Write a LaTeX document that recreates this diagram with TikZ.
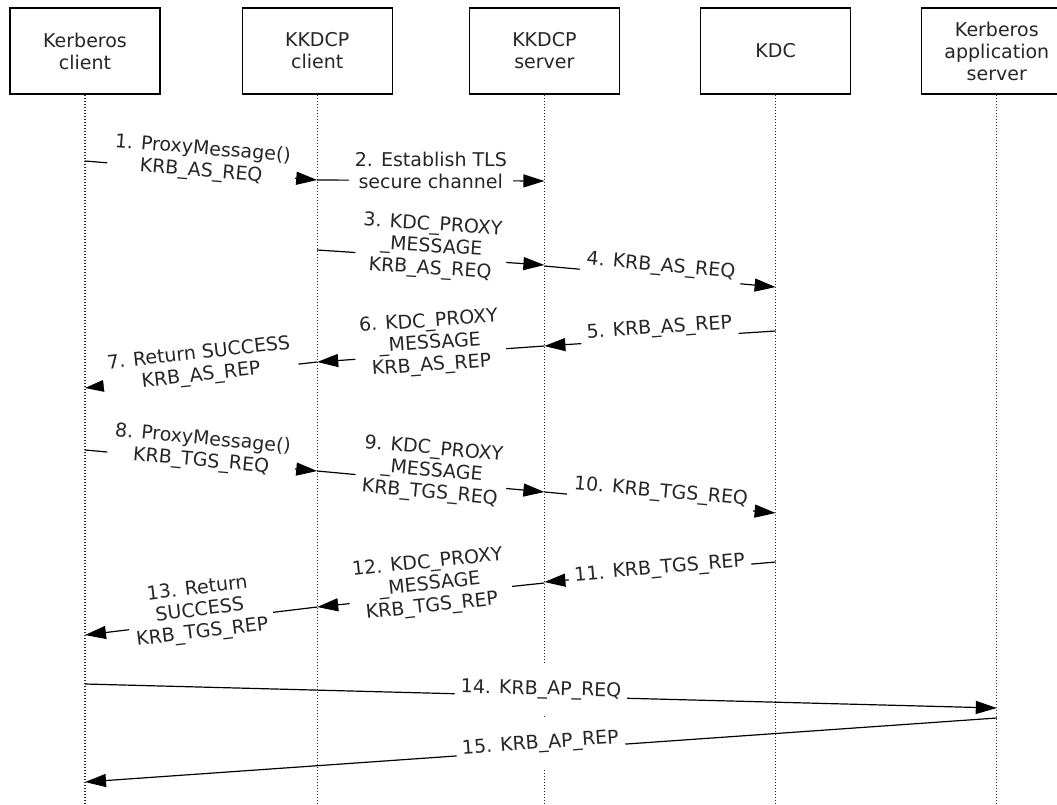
\documentclass[tikz,border=0pt]{standalone}
\usepackage{fontspec}
\setmainfont{DejaVu Sans}
\usetikzlibrary{positioning,arrows.meta}

\begin{document}
\begin{tikzpicture}[x=1pt,y=-1pt,font=\fontsize{19}{22}\selectfont,
                    actor/.style={draw,line width=1.2pt,minimum width=150pt,minimum height=86pt,
                                  align=center,inner sep=2pt,text=black!85},
                    lifeline/.style={line width=1.1pt,dash pattern=on 1pt off 2pt,black!85},
                    msg/.style={line width=1.2pt,-{Triangle[length=21pt,width=13pt]}},
                    lbl/.style={midway,sloped,fill=white,align=center,inner xsep=6pt,
                                inner ysep=2pt,yshift=10pt,text=black!85}]

    \clip (0,0) rectangle (1057,804);
    \fill[white] (0,0) rectangle (1057,804);

    \node[actor] (kc) at (85,51) {Kerberos\\client};
    \node[actor] (kp) [right=81pt of kc] {KKDCP\\client};
    \node[actor] (ks) [right=76pt of kp] {KKDCP\\server};
    \node[actor] (kdc) [right=80pt of ks] {KDC};
    \node[actor] (as) [right=70pt of kdc] {Kerberos\\application\\server};

    \foreach \n in {kc,kp,ks,kdc,as}
      \draw[lifeline] (\n.south) -- (\n.south |- 0,804);

    % AS exchange
    \draw[msg] (kc |- 0,161) -- node[lbl] {1. ProxyMessage()\\KRB\_AS\_REQ} (kp |- 0,180);
    \draw[msg] (kp |- 0,180) -- node[lbl] {2. Establish TLS\\secure channel} (ks |- 0,181);
    \draw[msg] (kp |- 0,250) -- node[lbl] {3. KDC\_PROXY\\\_MESSAGE\\KRB\_AS\_REQ} (ks |- 0,265);
    \draw[msg] (ks |- 0,266) -- node[lbl] {4. KRB\_AS\_REQ} (kdc |- 0,287);
    \draw[msg] (kdc |- 0,331) -- node[lbl] {5. KRB\_AS\_REP} (ks |- 0,346);
    \draw[msg] (ks |- 0,346) -- node[lbl] {6. KDC\_PROXY\\\_MESSAGE\\KRB\_AS\_REP} (kp |- 0,362);
    \draw[msg] (kp |- 0,362) -- node[lbl] {7. Return SUCCESS\\KRB\_AS\_REP} (kc |- 0,388);

    % TGS exchange
    \draw[msg] (kc |- 0,450) -- node[lbl] {8. ProxyMessage()\\KRB\_TGS\_REQ} (kp |- 0,471);
    \draw[msg] (kp |- 0,471) -- node[lbl] {9. KDC\_PROXY\\\_MESSAGE\\KRB\_TGS\_REQ} (ks |- 0,492);
    \draw[msg] (ks |- 0,492) -- node[lbl] {10. KRB\_TGS\_REQ} (kdc |- 0,513);
    \draw[msg] (kdc |- 0,562) -- node[lbl,yshift=-7pt] {11. KRB\_TGS\_REP} (ks |- 0,582);
    \draw[msg] (ks |- 0,583) -- node[lbl] {12. KDC\_PROXY\\\_MESSAGE\\KRB\_TGS\_REP} (kp |- 0,607);
    \draw[msg] (kp |- 0,607) -- node[lbl] {13. Return\\SUCCESS\\KRB\_TGS\_REP} (kc |- 0,635);

    % AP exchange
    \draw[msg] (kc |- 0,684) -- node[lbl,inner ysep=16pt,yshift=-4pt] {14. KRB\_AP\_REQ} (as |- 0,708);
    \draw[msg] (as |- 0,718) -- node[lbl,inner ysep=16pt,yshift=-4pt] {15. KRB\_AP\_REP} (kc |- 0,782);
\end{tikzpicture}
\end{document}
